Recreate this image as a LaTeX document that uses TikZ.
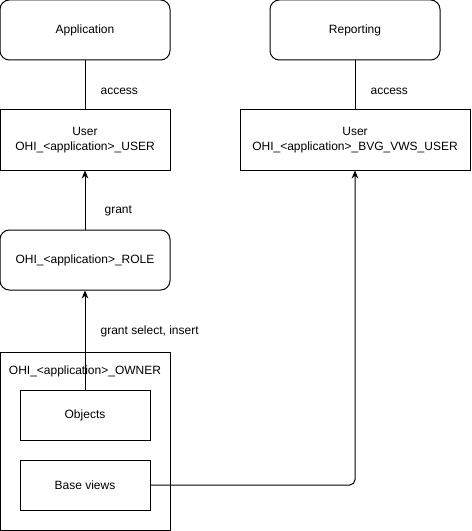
\documentclass[tikz,border=0pt]{standalone}
\usepackage{fontspec}
\setmainfont{Liberation Sans}
\usetikzlibrary{arrows.meta}

\tikzset{
  box/.style={draw, line width=0.75pt, minimum width=127.5pt, minimum height=45pt, inner sep=0pt, align=center},
  roundbox/.style={box, rounded corners=7pt},
  small/.style={draw, line width=0.75pt, minimum width=97.5pt, minimum height=37.5pt, inner sep=0pt},
  conn/.style={line width=0.75pt},
  arr/.style={conn, -{Stealth[length=6pt, width=5pt]}},
}

\begin{document}
\begin{tikzpicture}[x=0.75pt, y=-0.75pt, font=\fontsize{9}{11}\selectfont]
\useasboundingbox (0,0) rectangle (471,531);

\node[roundbox] (app) at (85,30) {Application};
\node[roundbox] (rep) at (355,30) {Reporting};
\node[box] (auser) at (85,140) {User\\OHI\_<application>\_USER};
\node[box, minimum width=172.5pt] (ruser) at (355,140) {User\\OHI\_<application>\_BVG\_VWS\_USER};
\node[roundbox] (role) at (85,260) {OHI\_<application>\_ROLE};

\draw[line width=0.75pt] (0.5,352) rectangle (170,530.5);
\node (owner) at (85,371) {OHI\_<application>\_OWNER};
\node[small] (obj) at (85,415) {Objects};
\node[small] (base) at (85,485) {Base views};

\draw[conn] (app) -- (auser) node[pos=.62, right=8pt] {access};
\draw[conn] (rep) -- (ruser) node[pos=.62, right=8pt] {access};
\draw[arr] (role) -- (auser) node[pos=.32, right=11pt] {grant};
\draw[arr] (obj) -- (role) node[pos=.59, right=8pt] {grant select, insert};
\draw[arr, rounded corners=4pt] (base) -| (ruser);
\end{tikzpicture}
\end{document}
